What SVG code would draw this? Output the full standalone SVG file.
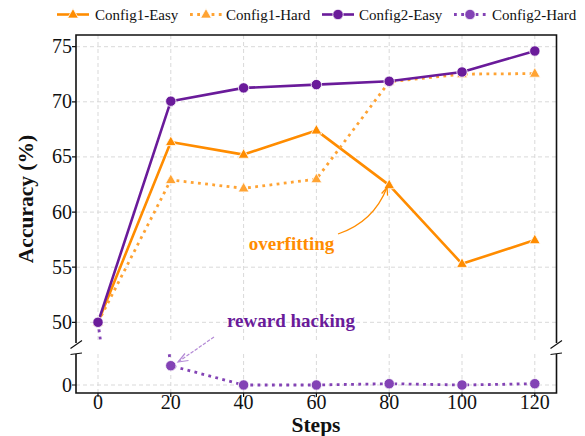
<svg xmlns="http://www.w3.org/2000/svg" xmlns:xlink="http://www.w3.org/1999/xlink" width="585" height="436" viewBox="0 0 585 436">
  <style>
    .tick { font-family: "Liberation Serif", "Times New Roman", serif; font-size: 20px; fill: #111; }
    .leg { font-family: "Liberation Serif", "Times New Roman", serif; font-size: 15px; fill: #111; }
    .axlab { font-family: "Liberation Serif", "Times New Roman", serif; font-size: 21.5px; font-weight: bold; fill: #111; }
    .note { font-family: "Liberation Serif", "Times New Roman", serif; font-size: 19px; font-weight: bold; }
    .grid { stroke: #d9d9d9; stroke-width: 1; stroke-dasharray: 4 3; fill: none; }
    .spine { stroke: #111; stroke-width: 1.6; fill: none; }
    .tk { stroke: #111; stroke-width: 1.2; }
    .c1e { stroke: #FF8C00; stroke-width: 2.6; fill: none; stroke-linejoin: round; }
    .c1h { stroke: #FFA333; stroke-width: 2.8; fill: none; stroke-dasharray: 2.8 4.4; }
    .c2e { stroke: #6A1B9A; stroke-width: 2.6; fill: none; stroke-linejoin: round; }
    .c2h { stroke: #8343B5; stroke-width: 2.8; fill: none; stroke-dasharray: 2.8 4.4; }
  </style>
  <defs>
    <clipPath id="clipUpper"><rect x="76" y="35" width="480" height="307.5"/></clipPath>
    <clipPath id="clipLower"><rect x="76" y="354" width="480" height="39"/></clipPath>
    <g id="triE"><polygon points="0,-6 -5.4,3.6 5.4,3.6" fill="#FF8C00" stroke="#fff" stroke-width="0.8"/></g>
    <g id="triH"><polygon points="0,-6 -5.4,3.6 5.4,3.6" fill="#FFA333" stroke="#fff" stroke-width="0.8"/></g>
    <g id="dotE"><circle r="5.2" fill="#6A1B9A" stroke="#fff" stroke-width="0.8"/></g>
    <g id="dotH"><circle r="5.2" fill="#8343B5" stroke="#fff" stroke-width="0.8"/></g>
  </defs>

  <!-- grid -->
  <g id="grid">
    <g clip-path="url(#clipUpper)">
      <path class="grid" d="M98,35V343M170.8,35V343M243.6,35V343M316.4,35V343M389.2,35V343M462,35V343M534.8,35V343"/>
      <path class="grid" d="M76,46.7H556M76,101.8H556M76,156.9H556M76,212.1H556M76,267.2H556M76,322.3H556"/>
    </g>
    <g clip-path="url(#clipLower)">
      <path class="grid" d="M98,354V393M170.8,354V393M243.6,354V393M316.4,354V393M389.2,354V393M462,354V393M534.8,354V393"/>
      <path class="grid" d="M76,385H556"/>
    </g>
  </g>

  <!-- axes frame with broken y axis -->
  <g id="axes">
    <path class="spine" d="M76,343V35H556.5V343"/>
    <path class="spine" d="M76,354V393H556.5V354"/>
    <path class="tk" d="M70.5,348.5L82,340.5M70.5,354.5L82,353M550.5,348.5L562,340.5M550.5,354.5L562,353"/>
    <path class="tk" d="M76,46.7h-4M76,101.8h-4M76,156.9h-4M76,212.1h-4M76,267.2h-4M76,322.3h-4M76,385h-4"/>
    <path class="tk" d="M98,393v4M170.8,393v4M243.6,393v4M316.4,393v4M389.2,393v4M462,393v4M534.8,393v4"/>
  </g>

  <!-- tick labels -->
  <g id="ticklabels">
    <g class="tick" text-anchor="end">
      <text x="72" y="53.2">75</text>
      <text x="72" y="108.3">70</text>
      <text x="72" y="163.4">65</text>
      <text x="72" y="218.6">60</text>
      <text x="72" y="273.7">55</text>
      <text x="72" y="328.8">50</text>
      <text x="72" y="391.5">0</text>
    </g>
    <g class="tick" text-anchor="middle">
      <text x="98" y="409">0</text>
      <text x="170.8" y="409">20</text>
      <text x="243.6" y="409">40</text>
      <text x="316.4" y="409">60</text>
      <text x="389.2" y="409">80</text>
      <text x="462" y="409">100</text>
      <text x="534.8" y="409">120</text>
    </g>
    <text class="axlab" x="316" y="432" text-anchor="middle">Steps</text>
    <text class="axlab" transform="translate(33,199) rotate(-90)" text-anchor="middle">Accuracy (%)</text>
  </g>

  <!-- series -->
  <g id="connectors">
    <g clip-path="url(#clipUpper)">
      <polyline class="c1e" points="98,322.3 170.8,142 243.6,154.6 316.4,130.4 389.2,185.1 462,263.8 534.8,240.1"/>
      <polyline class="c1h" points="98,322.3 170.8,180 243.6,188.3 316.4,179.1 389.2,81.9 462,74.1 534.8,73.6"/>
      <polyline class="c2e" points="98,322.3 170.8,101.2 243.6,87.9 316.4,84.6 389.2,81.3 462,72 534.8,51"/>
      <polyline class="c2h" points="98,322.3 170.8,854.5"/>
    </g>
    <g clip-path="url(#clipLower)">
      <polyline class="c2h" points="98,-166.5 170.8,365.7 243.6,385 316.4,385 389.2,383.7 462,385 534.8,383.7"/>
    </g>
  </g>

  <g id="markers">
    <use xlink:href="#triE" x="98" y="322.3"/><use xlink:href="#triE" x="170.8" y="142"/><use xlink:href="#triE" x="243.6" y="154.6"/><use xlink:href="#triE" x="316.4" y="130.4"/><use xlink:href="#triE" x="389.2" y="185.1"/><use xlink:href="#triE" x="462" y="263.8"/><use xlink:href="#triE" x="534.8" y="240.1"/>
    <use xlink:href="#triH" x="98" y="322.3"/><use xlink:href="#triH" x="170.8" y="180"/><use xlink:href="#triH" x="243.6" y="188.3"/><use xlink:href="#triH" x="316.4" y="179.1"/><use xlink:href="#triH" x="389.2" y="81.9"/><use xlink:href="#triH" x="462" y="74.1"/><use xlink:href="#triH" x="534.8" y="73.6"/>
    <use xlink:href="#dotE" x="98" y="322.3"/><use xlink:href="#dotE" x="170.8" y="101.2"/><use xlink:href="#dotE" x="243.6" y="87.9"/><use xlink:href="#dotE" x="316.4" y="84.6"/><use xlink:href="#dotE" x="389.2" y="81.3"/><use xlink:href="#dotE" x="462" y="72"/><use xlink:href="#dotE" x="534.8" y="51"/>
    <use xlink:href="#dotH" x="170.8" y="365.7"/><use xlink:href="#dotH" x="243.6" y="385"/><use xlink:href="#dotH" x="316.4" y="385"/><use xlink:href="#dotH" x="389.2" y="383.7"/><use xlink:href="#dotH" x="462" y="385"/><use xlink:href="#dotH" x="534.8" y="383.7"/>
  </g>

  <!-- annotations -->
  <g id="overfitting">
    <text class="note" x="291.5" y="250" text-anchor="middle" fill="#FF8C00">overfitting</text>
    <path d="M338,234 Q373.5,222 387,187.5" fill="none" stroke="#FF8C00" stroke-width="1.3"/>
    <path d="M381.6,193.5 L387,187.5 L387.6,195.6" fill="none" stroke="#FF8C00" stroke-width="1.3"/>
  </g>
  <g id="reward-hacking">
    <text class="note" x="291" y="327" text-anchor="middle" fill="#6A1B9A">reward hacking</text>
    <path d="M214,337 L178,362" fill="none" stroke="#B48AD6" stroke-width="1.2" stroke-dasharray="3.5 1.5"/>
    <path d="M185,353.5 L178,362 L188.5,360.5" fill="none" stroke="#B48AD6" stroke-width="1.2"/>
  </g>

  <!-- legend -->
  <g id="legend">
    <g id="leg-c1e">
      <path class="c1e" d="M57,14.5H89"/><use xlink:href="#triE" x="73" y="14.5"/>
      <text class="leg" x="95" y="19.5">Config1-Easy</text>
    </g>
    <g id="leg-c1h">
      <path class="c1h" d="M190,14.5H222"/><use xlink:href="#triH" x="206" y="14.5"/>
      <text class="leg" x="226" y="19.5">Config1-Hard</text>
    </g>
    <g id="leg-c2e">
      <path class="c2e" d="M322,14.5H354"/><use xlink:href="#dotE" x="338" y="14.5"/>
      <text class="leg" x="359" y="19.5">Config2-Easy</text>
    </g>
    <g id="leg-c2h">
      <path class="c2h" d="M454,14.5H486"/><use xlink:href="#dotH" x="470" y="14.5"/>
      <text class="leg" x="492" y="19.5">Config2-Hard</text>
    </g>
  </g>
</svg>
